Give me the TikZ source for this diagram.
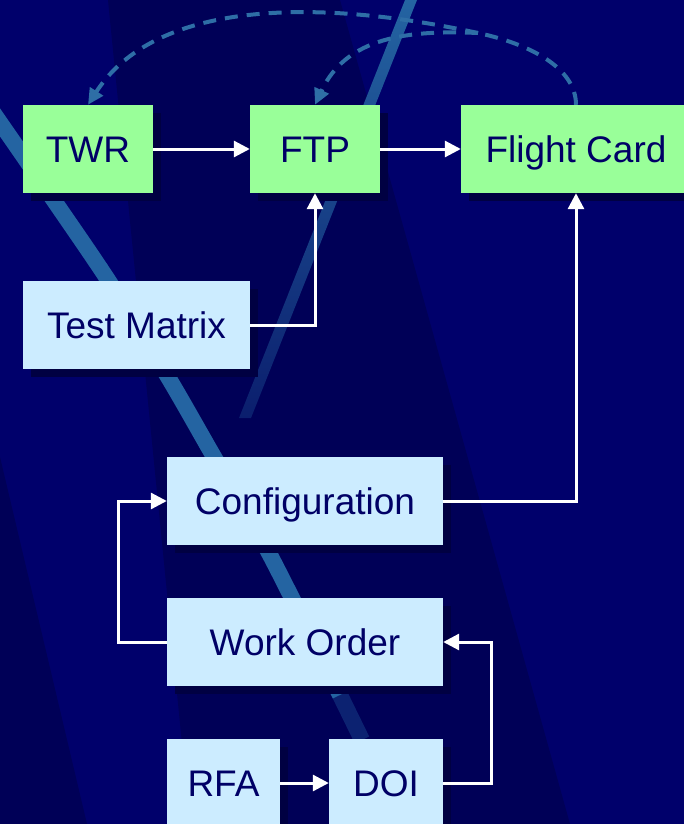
\documentclass[tikz,border=0pt]{standalone}
\usepackage{fontspec}
\setmainfont{Liberation Sans}
\usetikzlibrary{arrows.meta, positioning, shadows}

\definecolor{navy}{HTML}{00006B}
\definecolor{navydark}{HTML}{000057}
\definecolor{shadowblue}{HTML}{000042}
\definecolor{stripeblue}{HTML}{2464A2}
\definecolor{dashblue}{HTML}{2E6EA6}
\definecolor{boxgreen}{HTML}{99FF99}
\definecolor{boxblue}{HTML}{CCECFF}
\definecolor{textnavy}{HTML}{000066}

\tikzset{
  flowchart/.style={
	x=1pt, y=-1pt, % one unit is one pixel, y runs downwards
	node distance=141pt, % distance between the rows of boxes
  },
  box/.style={
	draw=none, inner sep=0pt,
	minimum height=88pt,
	text height=26.5pt, text depth=0pt, % same baseline in every box
	text=textnavy, font=\fontsize{37}{44}\selectfont,
	drop shadow={shadow xshift=8pt, shadow yshift=-8pt, fill=shadowblue, opacity=1}, % dark offset shadow
  },
  greenbox/.style={box, fill=boxgreen},
  bluebox/.style={box, fill=boxblue},
  flow/.style={
	-{Triangle[length=16pt, width=16pt]}, % white filled head
	draw=white, line width=3pt,
  },
  feedback/.style={
	draw=dashblue, line width=4pt,
	dash pattern=on 13pt off 9pt, % dashed loop back
  },
  feedtip/.style={-{Triangle[length=16pt, width=15pt]}},
}

\begin{document}
\begin{tikzpicture}[flowchart]
	\useasboundingbox (0,0) rectangle (684,824);

	% background
	\fill[navy] (0,0) rectangle (684,824);
	\fill[navydark] (108,0) -- (340,0) -- (570,824) -- (190,824) -- cycle;
	\fill[navydark] (0,457) -- (87,824) -- (0,824) -- cycle;
	\draw[stripeblue, line width=16pt] plot[smooth] coordinates {(-10,108) (55,202) (110,283) (168,377) (210,450) (270,555) (340,695)};
	\draw[stripeblue, line width=16pt, opacity=0.35] (340,695) -- (362,740);
	\shade[top color=stripeblue, bottom color=stripeblue!30!navydark] (405,0) -- (417,0) -- (251,418) -- (239,418) -- cycle;

	\node[greenbox, minimum width=130pt] (twr) at (88,149) {TWR};
	\node[greenbox, minimum width=130pt, right of=twr, xshift=86pt] (ftp) {FTP};
	\node[greenbox, minimum width=230pt, right of=ftp, xshift=120pt] (fc) {Flight Card};
	\node[bluebox, minimum width=227pt, below of=twr, yshift=-35pt, xshift=48.5pt] (tm) {Test Matrix};
	\node[bluebox, minimum width=276pt, below of=tm, yshift=-35pt, xshift=168.5pt] (conf) {Configuration};
	\node[bluebox, minimum width=276pt, below of=conf] (wo) {Work Order};
	\node[bluebox, minimum width=113pt, below of=wo, xshift=-81.5pt] (rfa) {RFA};
	\node[bluebox, minimum width=114pt, right of=rfa, xshift=21.5pt] (doi) {DOI};

	\draw [flow] (twr) -- (ftp);
	\draw [flow] (ftp) -- (fc);
	\draw [flow] (tm.east) -| (ftp.south);
	\draw [flow] (conf.east) -| (fc.south);
	\draw [flow] (wo.west) -- ++(-48,0) |- (conf.west);
	\draw [flow] (doi.east) -- ++(48,0) |- (wo.east);
	\draw [flow] (rfa) -- (doi);

	\coordinate (split) at (478,33);
	\draw [feedback] (fc.north) .. controls (576,68) and (530,44) .. (split);
	\draw [feedback, feedtip] (split) .. controls (311,-3) and (154,2) .. (twr.north);
	\draw [feedback, feedtip] (split) .. controls (408,30) and (346.5,36.8) .. (ftp.north);

\end{tikzpicture}
\end{document}
